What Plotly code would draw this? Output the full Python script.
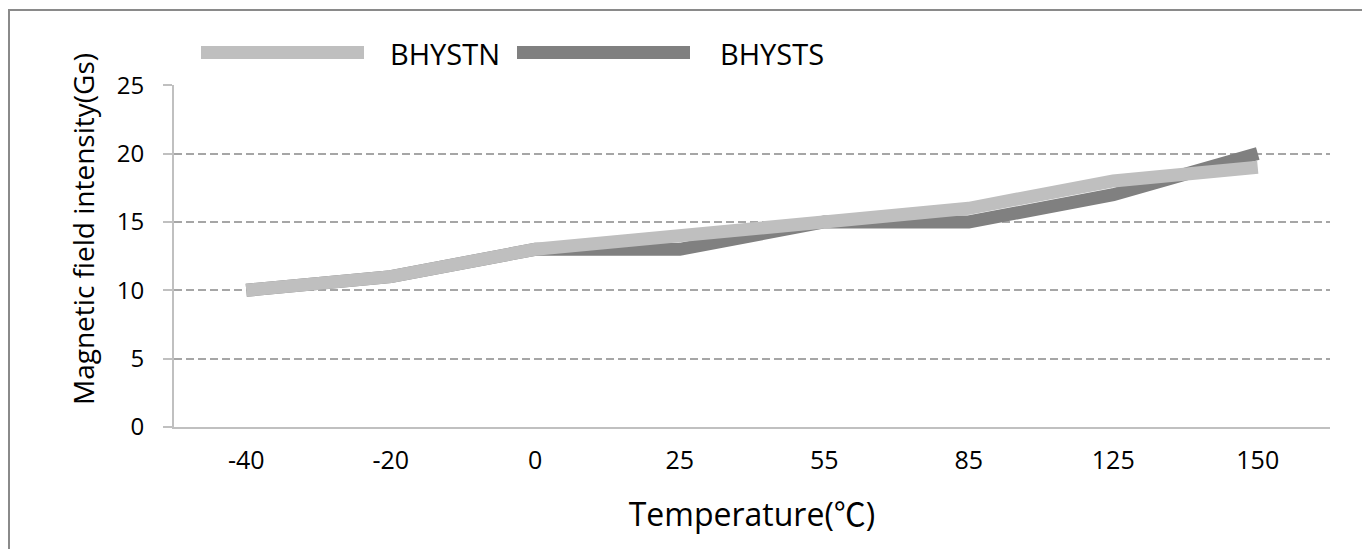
import plotly.graph_objects as go

temps = ["-40", "-20", "0", "25", "55", "85", "125", "150"]
bhystn = [10, 11, 13, 14, 15, 16, 18, 19]
bhysts = [10, 11, 13, 13, 15, 15, 17, 20]

W, H = 1370, 549
# page is offset by the 8px body margin; coordinates below are figure coordinates
L, T = 166, 77
pw, ph = 1156, 342
R, B = W - L - pw, H - T - ph

def px(x):
    return (x - L) / pw

def py(y):
    return (T + ph - y) / ph

light = "#bfbfbf"
dark = "#808080"
font = "Open Sans, Noto Sans, sans-serif"

fig = go.Figure()
fig.add_trace(go.Scatter(x=temps, y=bhysts, mode="lines", name="BHYSTS",
                         line=dict(color=dark, width=13), showlegend=False))
fig.add_trace(go.Scatter(x=temps, y=bhystn, mode="lines", name="BHYSTN",
                         line=dict(color=light, width=13), showlegend=False))

shapes = [
    dict(type="rect", xref="paper", yref="paper", x0=px(1), x1=px(1358), y0=py(560), y1=py(2),
         line=dict(color="#8a8a8a", width=2), fillcolor="rgba(0,0,0,0)", layer="below"),
    dict(type="line", xref="paper", yref="paper", x0=px(193), x1=px(356), y0=py(44.5), y1=py(44.5),
         line=dict(color=light, width=13)),
    dict(type="line", xref="paper", yref="paper", x0=px(509), x1=px(682), y0=py(44.5), y1=py(44.5),
         line=dict(color=dark, width=13)),
]
annotations = [
    dict(text="BHYSTN", xref="paper", yref="paper", x=px(380), y=py(45), xanchor="left",
         yanchor="middle", showarrow=False, font=dict(size=29, color="#000", family=font)),
    dict(text="BHYSTS", xref="paper", yref="paper", x=px(710), y=py(45), xanchor="left",
         yanchor="middle", showarrow=False, font=dict(size=29, color="#000", family=font)),
    dict(text="Magnetic field intensity(Gs)", xref="paper", yref="paper",
         x=px(75), y=py(221), xanchor="center", yanchor="middle", textangle=-90,
         showarrow=False, font=dict(size=28, color="#000", family=font)),
]

fig.update_layout(
    width=W, height=H,
    margin=dict(l=L, r=R, t=T, b=B),
    paper_bgcolor="white", plot_bgcolor="white",
    font=dict(family=font, color="#000"),
    shapes=shapes, annotations=annotations,
    showlegend=False,
)
fig.update_xaxes(
    type="category", range=[-0.5, 7.5],
    showline=True, linecolor="#c0c0c0", linewidth=2,
    showgrid=False, ticks="outside", ticklen=10, tickcolor="rgba(0,0,0,0)",
    tickfont=dict(size=25),
    title=dict(text='Temperature(<span style="font-family:Noto Sans CJK SC">℃</span>)',
               font=dict(size=32), standoff=29),
)
fig.update_yaxes(
    range=[0, 25.02], tickvals=[0, 5, 10, 15, 20, 25],
    showline=True, linecolor="#c0c0c0", linewidth=2,
    showgrid=True, gridcolor="#a6a6a6", griddash="8px,4px", gridwidth=2,
    zeroline=False,
    ticks="outside", ticklen=9, tickcolor="#c0c0c0", tickwidth=2,
    ticklabelstandoff=14,
    tickfont=dict(size=24),
)

fig.write_html("out.html")
